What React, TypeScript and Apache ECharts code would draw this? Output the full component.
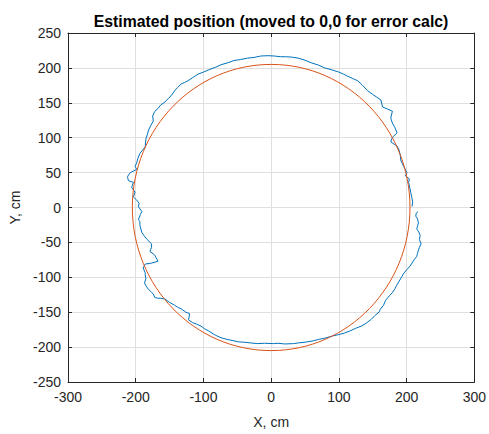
import React, { useEffect, useRef } from "react";
import * as echarts from "echarts";

const titleText = "Estimated position (moved to 0,0 for error calc)";
const xName = "X, cm";
const yName = "Y, cm";
const xRange = [-300, 300];
const yRange = [-250, 250];
const xStep = 100;
const yStep = 50;

// fitted circle: centre x, centre y, radius
const fitCircle = [[0, 0, 205]];

// estimated trajectory (x, y) in cm
const estX = [
  216.5, 214, 213.6, 216, 217.5, 216, 215, 218, 220, 219, 221.4, 219, 217.5, 216, 215, 211, 208, 205, 200.5, 196,
  193, 189, 185, 183, 179, 175, 169, 166, 161, 159.6, 153, 148, 140, 133, 125, 116, 108, 100, 91, 80,
  70, 62, 50, 40, 33, 20, 10, 3.6, -10, -20, -30.5, -40, -48, -55, -65, -74, -80, -84, -92, -98,
  -103.5, -110, -116, -122, -121, -120.6, -126, -133, -138, -142.5, -150, -157, -163, -168, -172, -174, -178, -181.5, -185, -187,
  -185, -186, -186, -189, -186, -178, -167, -170, -172, -179, -176.6, -176.6, -184, -188, -191, -193.7, -194, -196, -193, -191,
  -196, -195, -198.5, -203.4, -201, -206, -203.4, -210.7, -212, -211.7, -208, -198.5, -201, -198.5, -197, -193.7, -190, -186, -185, -183,
  -181, -178, -174, -175, -172, -167, -163, -157, -152, -147, -142, -138, -133, -128, -123, -116, -108, -100, -91, -82,
  -74, -65, -55, -45, -35, -25, -15.6, -5, 5, 14, 21, 30, 40, 50, 60, 70, 79, 90, 100, 107,
  113, 120, 128, 135, 142, 150, 156, 162, 164.5, 172, 179, 176.6, 179, 183, 186, 179, 176.6, 186, 189, 191,
  191, 195.6, 200.5, 198.5, 204, 203, 205, 206, 208, 209, 208,
];
const estY = [
  -5.6, -9, -12.5, -16, -22, -27, -31, -35, -40, -46, -52, -57, -61, -66, -70, -75, -79.6, -84, -88.9, -94,
  -99, -105.6, -112, -116, -122, -126, -133, -140, -146, -149.5, -155, -160, -166, -170, -173, -177, -180, -182, -184, -187,
  -189, -191, -193, -194, -195, -195.5, -194.5, -195, -194.5, -195, -194, -193, -192.5, -191, -189, -186.6, -184, -182, -177, -174,
  -170, -167, -165, -161, -156, -152, -150, -145, -143, -140, -136, -131, -130, -130, -128.7, -124, -120, -117, -112, -108,
  -102, -96, -93.5, -86.6, -81, -80, -77, -72, -68, -63, -57, -52, -45, -40, -35.6, -26, -20, -17, -10, -5.6,
  1, 6, 10.6, 15, 22, 29, 36, 38.4, 43, 45, 50, 54.6, 59, 64, 70, 77.8, 82, 87, 98, 104,
  111, 117, 124, 131, 137.5, 142, 147, 151, 156, 161, 168, 172, 177, 179, 181.5, 186, 191, 194, 197.7, 201,
  204.6, 207, 210.6, 212, 214, 215, 217, 217.5, 217, 216, 216, 215.5, 214, 211, 207, 204, 200, 197, 194, 191,
  188, 185, 181.5, 175, 167.6, 162, 158, 154, 144, 141, 138, 128, 121, 114, 107, 100.5, 94, 88, 82, 73,
  68.5, 59, 50, 45, 41, 36, 27, 22, 13, 8, 1.4,
];

const FONT = "'Liberation Sans', Arial, Helvetica, sans-serif";
const TEXT = "#262626";

export default function App() {
  const ref = useRef<HTMLDivElement>(null);
  useEffect(() => {
    if (!ref.current) return;
    const chart = echarts.init(ref.current, null, { renderer: "svg" });
    const trace = estX.map((x, i) => [x, estY[i]]);
    const gridL = 66, gridR = 13, gridT = 33, gridB = 42;
    const mainAxisCommon = {
      type: "value" as const,
      axisLine: { show: true, onZero: false, lineStyle: { color: TEXT, width: 1 } },
      axisTick: { show: true, inside: true, length: 4, lineStyle: { color: TEXT } },
    };
    chart.setOption({
      animation: false,
      backgroundColor: "#ffffff",
      textStyle: { fontFamily: FONT },
      grid: { left: gridL, right: gridR, top: gridT, bottom: gridB, containLabel: false },
      graphic: [
        {
          type: "text",
          x: gridL + (489 - gridL - gridR) / 2,
          y: 21,
          style: {
            text: titleText,
            fontFamily: FONT,
            fontSize: 15.8,
            fontWeight: "bold",
            fill: "#000000",
            textAlign: "center",
            textVerticalAlign: "middle",
          },
        },
      ],
      xAxis: [
        {
          ...mainAxisCommon,
          min: xRange[0],
          max: xRange[1],
          interval: xStep,
          position: "bottom",
          name: xName,
          nameLocation: "middle",
          nameGap: 33,
          nameTextStyle: { color: TEXT, fontSize: 14, fontFamily: FONT },
          axisLabel: { color: TEXT, fontSize: 14, fontFamily: FONT, margin: 8 },
          splitLine: { show: true, lineStyle: { color: "#dfdfdf", width: 1 } },
        },
        {
          ...mainAxisCommon,
          min: xRange[0],
          max: xRange[1],
          interval: xStep,
          position: "top",
          axisLabel: { show: false },
          splitLine: { show: false },
        },
      ],
      yAxis: [
        {
          ...mainAxisCommon,
          min: yRange[0],
          max: yRange[1],
          interval: yStep,
          position: "left",
          name: yName,
          nameLocation: "middle",
          nameGap: 46,
          nameRotate: 90,
          nameTextStyle: { color: TEXT, fontSize: 14, fontFamily: FONT },
          axisLabel: { color: TEXT, fontSize: 14, fontFamily: FONT, margin: 7 },
          splitLine: { show: true, lineStyle: { color: "#dfdfdf", width: 1 } },
        },
        {
          ...mainAxisCommon,
          min: yRange[0],
          max: yRange[1],
          interval: yStep,
          position: "right",
          axisLabel: { show: false },
          splitLine: { show: false },
        },
      ],
      series: [
        {
          type: "line",
          xAxisIndex: 0,
          yAxisIndex: 0,
          data: trace,
          showSymbol: false,
          symbol: "none",
          lineStyle: { color: "#0072BD", width: 1 },
          z: 3,
        },
        {
          type: "custom",
          xAxisIndex: 0,
          yAxisIndex: 0,
          data: fitCircle,
          encode: { x: 0, y: 1 },
          renderItem: (params: any, api: any) => {
            const c = api.coord([api.value(0), api.value(1)]);
            const s = api.size([api.value(2), api.value(2)]);
            return {
              type: "ellipse",
              shape: { cx: c[0], cy: c[1], rx: s[0], ry: s[1] },
              style: { fill: "none", stroke: "#D95319", lineWidth: 1 },
            };
          },
          z: 4,
        },
      ],
    });
    return () => chart.dispose();
  }, []);
  return (
    <div
      ref={ref}
      style={{ position: "fixed", left: 0, top: 0, width: 489, height: 434, background: "#fff" }}
    />
  );
}
